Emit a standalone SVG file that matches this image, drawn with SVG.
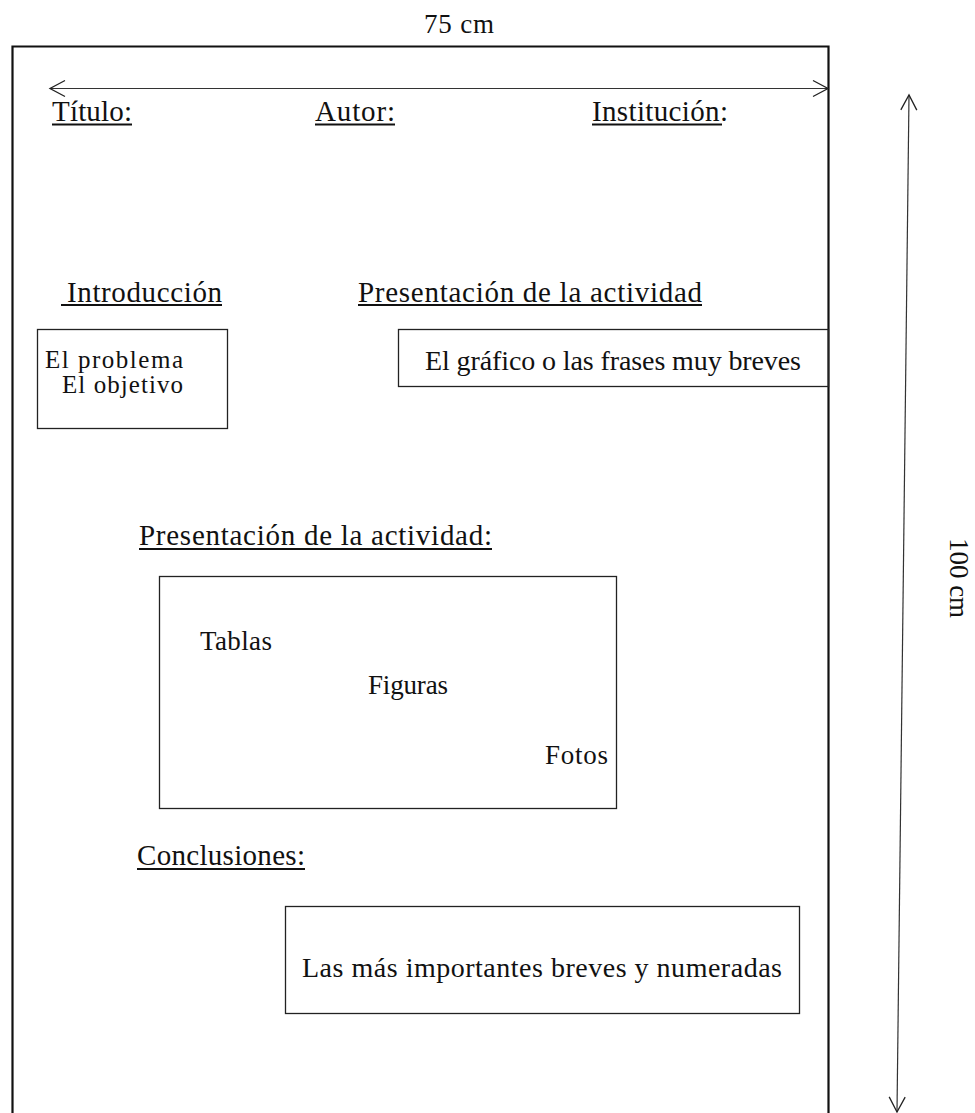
<svg xmlns="http://www.w3.org/2000/svg" width="975" height="1113" viewBox="0 0 975 1113">
<style>
text{font-family:"Liberation Serif","Times New Roman",serif;fill:#111;}
.t{font-size:27px;}
.s{font-size:25px;}
.h{font-size:29px;}
.b{font-size:28px;}
.box{fill:none;stroke:#222;stroke-width:1.3;}
.ul{stroke:#111;stroke-width:2;}
.dim{fill:none;stroke:#333;stroke-width:1.2;}
</style>
<defs>
<marker id="v" viewBox="-18 -10 20 20" markerWidth="20" markerHeight="20" refX="0" refY="0" markerUnits="userSpaceOnUse" orient="auto-start-reverse">
<path d="M-15,-8 L0,0 L-15,8" fill="none" stroke="#222" stroke-width="1.3"/>
</marker>
</defs>
<rect width="975" height="1113" fill="#fff"/>
<g id="sheet">
<path d="M12.5,1113 V46.5 H828.5 V1113" fill="none" stroke="#111" stroke-width="2.2"/>
</g>
<g id="connectors">
<line class="dim" x1="50" y1="88.5" x2="828" y2="88.5" marker-start="url(#v)" marker-end="url(#v)"/>
<line class="dim" x1="909" y1="95" x2="897" y2="1112" marker-start="url(#v)" marker-end="url(#v)"/>
</g>
<g id="dim-width"><text class="t" x="424" y="33" textLength="70">75 cm</text></g>
<g id="dim-height"><text class="t" transform="translate(950,578) rotate(90)" text-anchor="middle">100 cm</text></g>
<g id="titulo">
<text class="h" x="52" y="121" textLength="80">Título:</text>
<line class="ul" x1="52" y1="124.5" x2="132" y2="124.5"/>
</g>
<g id="autor">
<text class="h" x="315" y="121" textLength="80">Autor:</text>
<line class="ul" x1="315" y1="124.5" x2="395" y2="124.5"/>
</g>
<g id="institucion">
<text class="h" x="592" y="121" textLength="136">Institución:</text>
<line class="ul" x1="592" y1="124.5" x2="722" y2="124.5"/>
</g>
<g id="introduccion">
<text class="h" x="67" y="302" textLength="155">Introducción</text>
<line class="ul" x1="61" y1="305" x2="222" y2="305"/>
</g>
<g id="presentacion1">
<text class="h" x="358" y="302" textLength="344">Presentación de la actividad</text>
<line class="ul" x1="358" y1="305" x2="702" y2="305"/>
</g>
<g id="box-intro">
<rect class="box" x="37.5" y="329.5" width="190" height="99"/>
<text class="s" x="45" y="368" textLength="138">El problema</text>
<text class="s" x="62" y="393" textLength="121">El objetivo</text>
</g>
<g id="box-grafico">
<rect class="box" x="398.5" y="329.5" width="430" height="57"/>
<text class="b" x="425" y="370" textLength="376">El gráfico o las frases muy breves</text>
</g>
<g id="presentacion2">
<text class="h" x="139" y="545" textLength="353">Presentación de la actividad:</text>
<line class="ul" x1="139" y1="549" x2="492" y2="549"/>
</g>
<g id="box-actividad">
<rect class="box" x="159.5" y="576.5" width="457" height="232"/>
<text class="t" x="200" y="650" textLength="72">Tablas</text>
<text class="t" x="368" y="694" textLength="80">Figuras</text>
<text class="t" x="545" y="764" textLength="63">Fotos</text>
</g>
<g id="conclusiones">
<text class="h" x="137" y="865" textLength="168">Conclusiones:</text>
<line class="ul" x1="137" y1="869" x2="305" y2="869"/>
</g>
<g id="box-conclusiones">
<rect class="box" x="285.5" y="906.5" width="514" height="107"/>
<text class="b" x="302" y="977" textLength="480">Las más importantes breves y numeradas</text>
</g>
</svg>
